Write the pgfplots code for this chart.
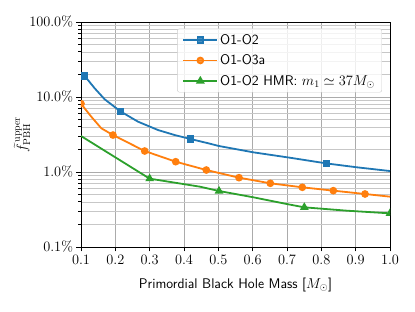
\documentclass[border=0pt]{standalone}
\usepackage{pgfplots}
\pgfplotsset{compat=1.18}
\definecolor{c0}{HTML}{1F77B4}
\definecolor{c1}{HTML}{FF7F0E}
\definecolor{c2}{HTML}{2CA02C}
\pgfplotsset{myleg/.style={legend image code/.code={\draw[##1, mark indices={2}] plot coordinates {(0bp,0bp)(17bp,0bp)(34bp,0bp)};}}}
\begin{document}
\begin{tikzpicture}
\path[use as bounding box] (-81bp,-65bp) rectangle (334bp,247bp);
\begin{axis}[
  at={(0,0)}, anchor=south west,
  scale only axis, width=309bp, height=225bp,
  xmin=0.1, xmax=1.0, ymin=0.1, ymax=100, ymode=log,
  clip marker paths=true,
  xtick={0.1,0.2,0.3,0.4,0.5,0.6,0.7,0.8,0.9,1.0},
  xticklabels={$0.1$,$0.2$,$0.3$,$0.4$,$0.5$,$0.6$,$0.7$,$0.8$,$0.9$,$1.0$},
  ytick={0.1,1,10,100},
  yticklabels={$0.1\%$,$1.0\%$,$10.0\%$,$100.0\%$},
  minor ytick={0.2,0.3,0.4,0.5,0.6,0.7,0.8,0.9,2,3,4,5,6,7,8,9,20,30,40,50,60,70,80,90},
  grid=both,
  major grid style={draw=black!33, line width=0.8bp},
  minor grid style={draw=black!22, line width=0.6bp},
  tick align=outside, tick pos=left,
  major tick length=4.5bp, minor tick length=2.6bp,
  every tick/.style={black, line width=0.8bp},
  axis line style={line width=0.8bp},
  ticklabel style={font=\fontsize{14bp}{17bp}\selectfont},
  xlabel={Primordial Black Hole Mass [$M_\odot$]},
  ylabel={$\widetilde{f}^{\,\mathrm{upper}}_{\mathrm{PBH}}$},
  xlabel style={font=\fontsize{14bp}{17bp}\selectfont\sffamily, at={(axis description cs:0.5,-0.169)}, anchor=center},
  ylabel style={font=\fontsize{14bp}{17bp}\selectfont, at={(axis description cs:-0.191,0.5)}, anchor=center},
  legend cell align=left,
  legend style={at={(0.974,0.971)}, anchor=north east, draw=black!20, fill=white, fill opacity=0.8, text opacity=1, rounded corners=2bp, font=\fontsize{14bp}{17bp}\selectfont\sffamily, row sep=5bp, inner xsep=5bp, inner ysep=3.5bp,
    /tikz/every even column/.append style={column sep=9bp}},
]
\addplot[c0, line width=1.8bp, mark=square*, mark size=2.8bp, mark options={solid}, mark indices={1,4,8,13}, myleg]
coordinates {
(0.1108,19.05) (0.1399,13.06) (0.169,9.32) (0.2145,6.45) (0.266,4.69) (0.3243,3.63) (0.3729,3.11)
(0.4195,2.75) (0.4699,2.42) (0.502,2.22) (0.602,1.83) (0.7088,1.55) (0.8157,1.30) (0.903,1.156) (1.0,1.03)
};
\addlegendentry{O1-O2}
\addplot[c1, line width=1.8bp, mark=*, mark size=2.9bp, mark options={solid}, mark indices={1,4,5,6,7,8,9,10,11,12}, myleg]
coordinates {
(0.1,8.14) (0.130,5.46) (0.1591,3.83) (0.1932,3.11) (0.2855,1.905) (0.3758,1.372) (0.465,1.063)
(0.5602,0.840) (0.6514,0.707) (0.7446,0.625) (0.8349,0.564) (0.9272,0.509) (1.0,0.469)
};
\addlegendentry{O1-O3a}
\addplot[c2, line width=1.8bp, mark=triangle*, mark size=3.3bp, mark options={solid}, mark indices={2,4,7,9}, myleg]
coordinates {
(0.1,3.02) (0.3,0.815) (0.4466,0.637) (0.502,0.558) (0.602,0.46) (0.699,0.3745) (0.7504,0.338) (0.874,0.305) (1.0,0.281)
};
\addlegendentry{O1-O2 HMR: $m_1 \simeq 37 M_\odot$}
\end{axis}
\end{tikzpicture}
\end{document}
